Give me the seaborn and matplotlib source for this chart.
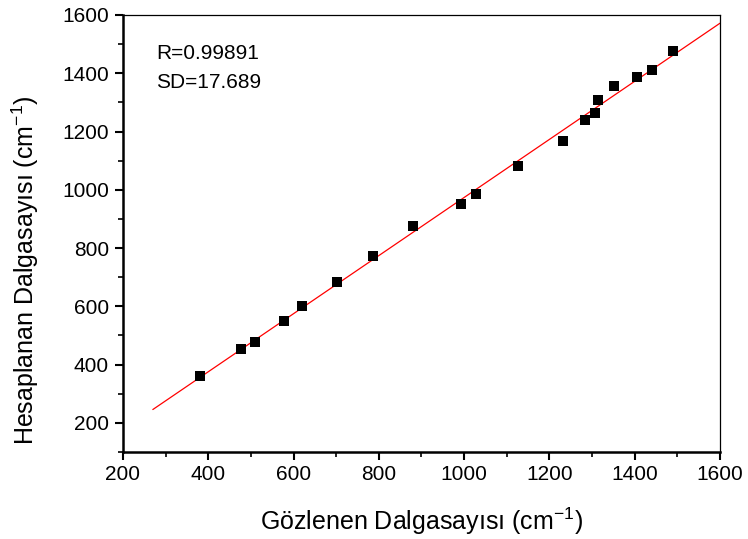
import numpy as np
import pandas as pd
import matplotlib
matplotlib.use("Agg")
import matplotlib.pyplot as plt
import seaborn as sns
from matplotlib.ticker import MultipleLocator

# Data
observed = [381, 477, 510, 578, 619, 703, 786, 879, 993, 1028, 1126, 1231,
            1283, 1308, 1314, 1352, 1406, 1441, 1489]
calculated = [360, 455, 476, 549, 601, 684, 772, 875, 952, 986, 1083, 1168,
              1241, 1262, 1307, 1356, 1387, 1412, 1477]
fit_x_range = [270, 1600]
r_text = "R=0.99891"
sd_text = "SD=17.689"
x_label = "Gözlenen Dalgasayısı (cm$^{-1}$)"
y_label = "Hesaplanan Dalgasayısı (cm$^{-1}$)"
x_ticks = [200, 400, 600, 800, 1000, 1200, 1400, 1600]
y_ticks = [200, 400, 600, 800, 1000, 1200, 1400, 1600]

sns.set_style("ticks")
plt.rcParams['font.family'] = ['Liberation Sans', 'DejaVu Sans']
plt.rcParams['mathtext.fontset'] = 'custom'
plt.rcParams['mathtext.rm'] = 'Liberation Sans'
plt.rcParams['mathtext.it'] = 'Liberation Sans'
plt.rcParams['text.color'] = 'black'
plt.rcParams['axes.labelcolor'] = 'black'
plt.rcParams['xtick.color'] = 'black'
plt.rcParams['ytick.color'] = 'black'

df = pd.DataFrame({"obs": observed, "calc": calculated})
slope, intercept = np.polyfit(df["obs"], df["calc"], 1)
line_df = pd.DataFrame({"x": fit_x_range})
line_df["y"] = slope * line_df["x"] + intercept

fig = plt.figure(figsize=(7.48, 5.39), dpi=100)
ax = fig.add_axes([0.1644, 0.1614, 0.7982, 0.8108])

sns.lineplot(data=line_df, x="x", y="y", color="red", linewidth=0.9, ax=ax)
sns.scatterplot(data=df, x="obs", y="calc", marker="s", color="black",
                s=62, edgecolor="black", linewidth=0, ax=ax, zorder=3)

ax.set_xlim(200, 1600)
ax.set_ylim(100, 1600)
ax.set_xticks(x_ticks)
ax.set_yticks(y_ticks)
ax.xaxis.set_minor_locator(MultipleLocator(100))
ax.yaxis.set_minor_locator(MultipleLocator(100))
ax.tick_params(which="major", direction="out", length=6, width=1.5, labelsize=15,
               colors="black", top=False, right=False)
ax.tick_params(axis="x", which="major", pad=3)
ax.tick_params(axis="y", which="major", pad=4)
ax.tick_params(which="minor", direction="out", length=3.5, width=1.2,
               top=False, right=False)

for side in ["left", "bottom"]:
    ax.spines[side].set_linewidth(1.8)
for side in ["top", "right"]:
    ax.spines[side].set_linewidth(0.9)
for s in ax.spines.values():
    s.set_color("black")

ax.set_xlabel(x_label, fontsize=18)
ax.set_ylabel(y_label, fontsize=18)
ax.xaxis.set_label_coords(0.5, -0.122)
ax.yaxis.set_label_coords(-0.137, 0.416)

ax.text(0.055, 0.933, r_text, transform=ax.transAxes, fontsize=15,
        va="top", ha="left")
ax.text(0.055, 0.868, sd_text, transform=ax.transAxes, fontsize=15,
        va="top", ha="left")

fig.savefig("out.png", dpi=100)
